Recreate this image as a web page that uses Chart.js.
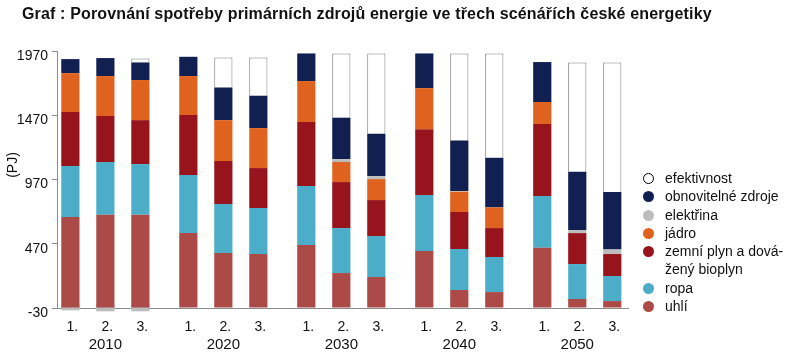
<!DOCTYPE html>
<html lang="cs">
<head>
<meta charset="utf-8">
<title>Porovnání spotřeby primárních zdrojů energie</title>
<script src="https://cdn.jsdelivr.net/npm/chart.js@4.4.1/dist/chart.umd.min.js"></script>
<style>
  html, body { margin: 0; padding: 0; background: #fff; }
  #wrap { position: relative; width: 786px; height: 359px; font-family: "Liberation Sans", Arial, sans-serif; color: #111; }
  #wrap canvas { position: absolute; left: 0; top: 0; }
  #title { position: absolute; left: 22px; top: 5px; font-weight: bold; font-size: 16px; letter-spacing: 0.15px; white-space: nowrap; }
  #unit { position: absolute; left: -8px; top: 155px; width: 40px; height: 20px; line-height: 20px; text-align: center; font-size: 14px; transform: rotate(-90deg); }
  #legend { position: absolute; left: 643px; top: 169px; list-style: none; margin: 0; padding: 0; font-size: 14px; line-height: 18.3px; }
  #legend li { position: relative; padding-left: 22px; white-space: nowrap; }
  #legend .dot { position: absolute; left: 0; top: 4px; width: 11px; height: 11px; border-radius: 50%; box-sizing: border-box; }
</style>
</head>
<body>
<div id="wrap">
  <canvas id="energyChart" width="786" height="359"></canvas>
  <div id="title">Graf : Porovnání spotřeby primárních zdrojů energie ve třech scénářích české energetiky</div>
  <div id="unit">(PJ)</div>
  <ul id="legend"></ul>
</div>
<script>
// roky a scénáře
const years = [2010, 2020, 2030, 2040, 2050];
const scenarios = ["1.", "2.", "3."];
const yTicks = [-30, 470, 970, 1470, 1970];

// hodnoty v PJ, jeden řádek = jeden scénář (1., 2., 3.), sloupce = roky
const uhli = [
  [678, 553, 460, 413, 439],
  [696, 398, 242, 110, 40],
  [696, 390, 211, 94, 24]
];
const ropa = [
  [397, 452, 459, 436, 402],
  [410, 381, 350, 319, 272],
  [394, 358, 319, 273, 195]
];
const plyn = [
  [420, 466, 498, 513, 560],
  [358, 335, 358, 288, 241],
  [342, 311, 280, 225, 171]
];
const jadro = [
  [303, 304, 319, 319, 172],
  [311, 318, 156, 158, 0],
  [312, 311, 163, 161, 0]
];
const elektrina = [
  [-48, 0, 0, 0, 0],
  [-56, 0, 23, 5, 24],
  [-56, 0, 24, 0, 36]
];
const obnovitelne = [
  [109, 150, 215, 270, 311],
  [140, 254, 322, 394, 454],
  [137, 252, 329, 386, 446]
];
const efektivnost = [
  [null, null, null, null, null],
  [null, 234, 500, 677, 850],
  [31, 298, 625, 812, 1009]
];

// pořadí od spodu sloupce nahoru
const series = [
  { name: "uhlí", data: uhli, color: "#ab4a47" },
  { name: "ropa", data: ropa, color: "#4badc8" },
  { name: "zemní plyn a dová-<br>žený bioplyn", data: plyn, color: "#97141d" },
  { name: "jádro", data: jadro, color: "#e0621f" },
  { name: "elektřina", data: elektrina, color: "#bdbdbd" },
  { name: "obnovitelné zdroje", data: obnovitelne, color: "#121f51" },
  { name: "efektivnost", data: efektivnost, color: "#ffffff", border: "#7f7f7f" }
];

// datasety: typ x scénář, každý scénář je vlastní stack
const datasets = [];
series.forEach((s, ti) => {
  scenarios.forEach((sc, si) => {
    const ds = {
      label: s.name + " " + sc,
      data: s.data[si],
      backgroundColor: s.color,
      borderWidth: s.border ? 1 : 0,
      borderColor: s.border || s.color,
      stack: "S" + si,
      categoryPercentage: 0.89,
      barPercentage: 0.52
    };
    if (ti === 0) ds.base = -30;   // sloupce začínají na ose (-30)
    if (s.name === "elektřina") ds.clip = false;
    datasets.push(ds);
  });
});

// legenda (HTML kvůli dvouřádkové položce)
const legendEl = document.getElementById("legend");
series.slice().reverse().forEach((s) => {
  const li = document.createElement("li");
  const dot = document.createElement("span");
  dot.className = "dot";
  dot.style.background = s.color;
  if (s.border) dot.style.border = "1.5px solid #000";
  li.appendChild(dot);
  li.insertAdjacentHTML("beforeend", s.name);
  legendEl.appendChild(li);
});

// popisky scénářů pod každým sloupcem
const scenarioLabels = {
  id: "scenarioLabels",
  afterDatasetsDraw(chart) {
    const ctx = chart.ctx;
    ctx.save();
    ctx.font = '14px "Liberation Sans"';
    ctx.fillStyle = "#111";
    ctx.textAlign = "center";
    ctx.textBaseline = "middle";
    scenarios.forEach((sc, si) => {
      chart.getDatasetMeta(si).data.forEach((bar) => {
        ctx.fillText(sc, bar.x + 2, chart.chartArea.bottom + 19);
      });
    });
    ctx.restore();
  }
};

const ctx = document.getElementById("energyChart").getContext("2d");
new Chart(ctx, {
  type: "bar",
  data: { labels: years, datasets: datasets },
  options: {
    responsive: false,
    animation: false,
    layout: { padding: { left: 0, top: 51, right: 158, bottom: 0 } },
    scales: {
      x: {
        type: "linear",
        min: 2005.9,
        max: 2054.3,
        offset: false,
        stacked: true,
        afterBuildTicks: (scale) => { scale.ticks = years.map((v) => ({ value: v })); },
        afterFit: (scale) => { scale.height = 51; },
        grid: { display: false, drawTicks: false },
        border: { color: "#8c8c8c", width: 1 },
        ticks: {
          autoSkip: false,
          maxRotation: 0,
          padding: 28,
          color: "#111",
          font: { family: "Liberation Sans", size: 15 },
          callback: (v) => String(v)
        }
      },
      y: {
        min: -30,
        max: 1970,
        stacked: true,
        afterBuildTicks: (scale) => { scale.ticks = yTicks.map((v) => ({ value: v })); },
        afterFit: (scale) => { scale.width = 57; },
        grid: { drawOnChartArea: false, tickLength: 5, color: "#8c8c8c" },
        border: { color: "#8c8c8c", width: 1 },
        ticks: {
          padding: 4,
          labelOffset: 5,
          color: "#111",
          font: { family: "Liberation Sans", size: 14 },
          callback: (v) => String(v)
        }
      }
    },
    plugins: {
      legend: { display: false },
      title: { display: false },
      tooltip: { enabled: false }
    }
  },
  plugins: [scenarioLabels]
});
</script>
</body>
</html>
